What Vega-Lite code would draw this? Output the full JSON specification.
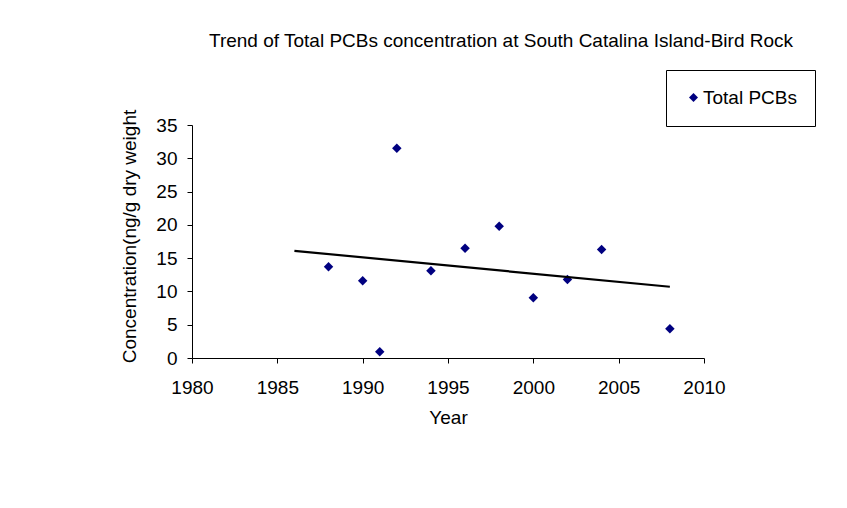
{
  "$schema": "https://vega.github.io/schema/vega-lite/v6.json",
  "width": 512,
  "height": 233,
  "autosize": "none",
  "padding": {"left": 192, "top": 125, "right": 143, "bottom": 150},
  "background": "white",
  "config": {
    "font": "Liberation Sans",
    "view": {"stroke": null},
    "axis": {
      "grid": false,
      "domainColor": "black",
      "tickColor": "black",
      "tickSize": 5,
      "labelColor": "black",
      "labelFontSize": 19,
      "labelOverlap": false,
      "labelFlush": false,
      "titleFontSize": 19,
      "titleFontWeight": "normal",
      "titleColor": "black"
    }
  },
  "title": {
    "text": "Trend of Total PCBs concentration at South Catalina Island-Bird Rock",
    "frame": "group",
    "anchor": "middle",
    "dx": 53,
    "offset": 19,
    "fontSize": 19,
    "fontWeight": "normal",
    "color": "black"
  },
  "data": {
    "values": [
      {"Year": 1988, "Concentration": 13.7, "series": "Total PCBs"},
      {"Year": 1990, "Concentration": 11.6, "series": "Total PCBs"},
      {"Year": 1991, "Concentration": 0.95, "series": "Total PCBs"},
      {"Year": 1992, "Concentration": 31.5, "series": "Total PCBs"},
      {"Year": 1994, "Concentration": 13.1, "series": "Total PCBs"},
      {"Year": 1996, "Concentration": 16.5, "series": "Total PCBs"},
      {"Year": 1998, "Concentration": 19.8, "series": "Total PCBs"},
      {"Year": 2000, "Concentration": 9.05, "series": "Total PCBs"},
      {"Year": 2002, "Concentration": 11.8, "series": "Total PCBs"},
      {"Year": 2004, "Concentration": 16.3, "series": "Total PCBs"},
      {"Year": 2008, "Concentration": 4.4, "series": "Total PCBs"}
    ]
  },
  "encoding": {
    "x": {
      "field": "Year",
      "type": "quantitative",
      "scale": {"domain": [1980, 2010], "nice": false, "zero": false},
      "axis": {"title": "Year", "values": [1980, 1985, 1990, 1995, 2000, 2005, 2010], "format": "d", "labelPadding": 15, "titlePadding": 11}
    },
    "y": {
      "field": "Concentration",
      "type": "quantitative",
      "scale": {"domain": [0, 35], "nice": false},
      "axis": {"title": "Concentration(ng/g dry weight", "values": [0, 5, 10, 15, 20, 25, 30, 35], "tickCount": 8, "labelPadding": 10, "titlePadding": 16, "titleY": 111}
    }
  },
  "layer": [
    {
      "mark": {"type": "point", "shape": "diamond", "filled": true, "size": 90, "opacity": 1},
      "encoding": {
        "color": {
          "field": "series",
          "type": "nominal",
          "scale": {"range": ["#000080"]},
          "legend": {
            "title": null,
            "orient": "none",
            "legendX": 474,
            "legendY": -55,
            "symbolType": "diamond",
            "symbolSize": 80,
            "symbolOpacity": 1,
            "labelFontSize": 19,
            "labelOffset": 0,
            "labelColor": "black",
            "strokeColor": "black",
            "padding": 18,
            "fillColor": "white"
          }
        }
      }
    },
    {
      "data": {"values": [{"Year": 1986, "Concentration": 16.1}, {"Year": 2008, "Concentration": 10.7}]},
      "mark": {"type": "line", "color": "black", "strokeWidth": 2.2}
    },
    {
      "data": {"values": [{"label": "y = -0.2466x + 505.98"}]},
      "mark": {"type": "text", "fontSize": 19, "color": "black", "align": "center", "baseline": "middle"},
      "encoding": {
        "x": {"datum": 2005.57, "type": "quantitative"},
        "y": {"datum": 27.0, "type": "quantitative"},
        "text": {"field": "label"}
      }
    },
    {
      "data": {"values": [{"label": "R² = 0.038"}]},
      "mark": {"type": "text", "fontSize": 19, "color": "black", "align": "center", "baseline": "middle"},
      "encoding": {
        "x": {"datum": 2005.6, "type": "quantitative"},
        "y": {"datum": 23.1, "type": "quantitative"},
        "text": {"field": "label"}
      }
    }
  ]
}
